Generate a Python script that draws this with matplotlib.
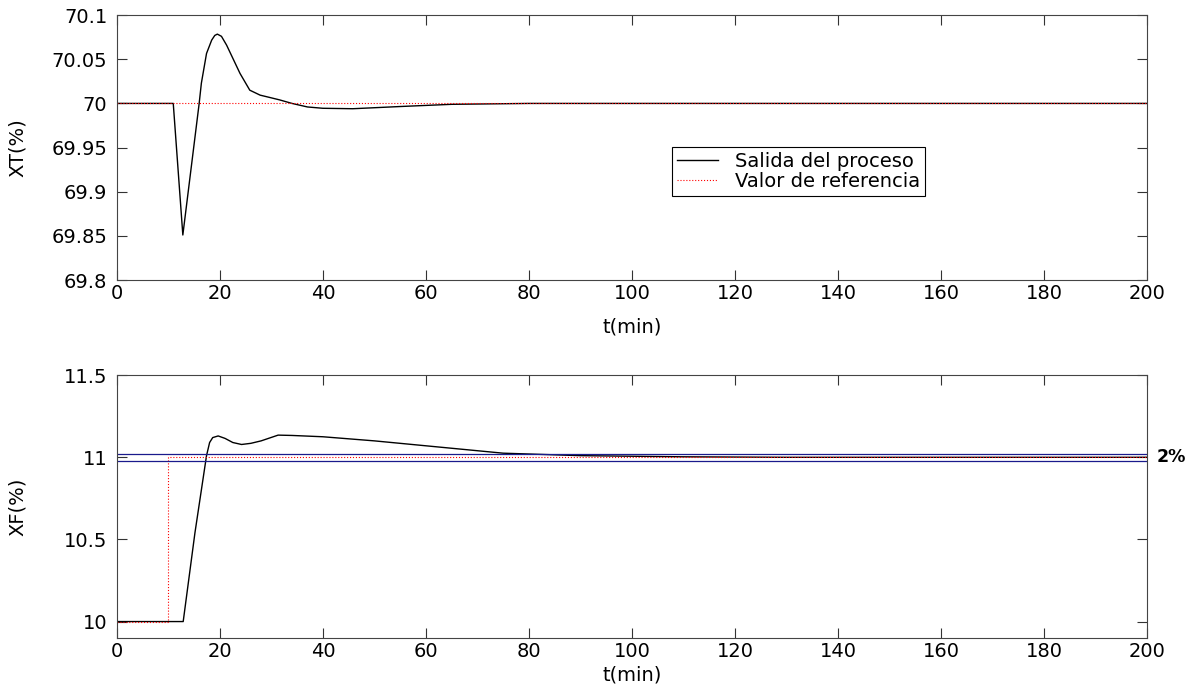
import numpy as np
import matplotlib.pyplot as plt

plt.rcParams['font.family'] = ['DejaVu Sans']
plt.rcParams['font.size'] = 14

# salida XT (lazo superior)
t_xt = [0, 10.94, 12.8, 15.97, 16.4, 17.4, 18.4, 19.0, 19.5, 20.3, 21.3, 22.6,
        23.9, 25.8, 27.8, 29.5, 31.6, 34, 37, 40, 45.8, 55, 65, 80, 100, 200]
xt = [70, 70, 69.851, 70.0, 70.023, 70.0566, 70.0717, 70.077, 70.0785,
      70.076, 70.066, 70.05, 70.034, 70.015, 70.0094, 70.007, 70.004, 70.0,
      69.996, 69.9945, 69.994, 69.9965, 69.999, 70.0, 70.0, 70.0]
xt_ref = 70.0

# salida XF (lazo inferior)
t_xf = [0, 12.87, 15.15, 17.4, 18.0, 18.6, 19.66, 21, 22.5, 24.2, 26, 28,
        31.3, 34, 40, 50, 65, 75, 90, 110, 130, 200]
xf = [10, 10, 10.54, 11.01, 11.09, 11.12, 11.13, 11.115, 11.09, 11.078,
      11.085, 11.10, 11.135, 11.133, 11.125, 11.10, 11.055, 11.025, 11.01,
      11.003, 11.0, 11.0]
t_xf_ref = [0, 10, 10, 200]
xf_ref = [10, 10, 11, 11]
banda = 0.02  # 2%

yt_top = [69.8, 69.85, 69.9, 69.95, 70, 70.05, 70.1]
yl_top = ['69.8', '69.85', '69.9', '69.95', '70', '70.05', '70.1']
yt_bot = [10, 10.5, 11, 11.5]
yl_bot = ['10', '10.5', '11', '11.5']
xt_ticks = list(range(0, 201, 20))

fig = plt.figure(figsize=(11.93, 6.88), dpi=100)
ax1 = fig.add_axes([0.098, 0.593, 0.8634, 0.385])
ax2 = fig.add_axes([0.098, 0.0727, 0.8634, 0.382])

ax1.plot(t_xt, xt, color='black', lw=1.0, label='Salida del proceso')
ax1.plot([0, 200], [xt_ref, xt_ref], color='red', lw=0.8, ls=':',
         label='Valor de referencia')
ax1.set_ylim(69.8, 70.1)
ax1.set_yticks(yt_top)
ax1.set_yticklabels(yl_top)
leg = ax1.legend(loc='upper left', bbox_to_anchor=(0.539, 0.502),
                 fancybox=False, framealpha=1, edgecolor='black',
                 handlelength=2.1, handletextpad=0.9, borderpad=0.25,
                 labelspacing=0.05, borderaxespad=0, fontsize=14)
leg.get_frame().set_linewidth(0.8)

ax2.plot(t_xf, xf, color='black', lw=1.0)
ax2.plot(t_xf_ref, xf_ref, color='red', lw=0.8, ls=':')
ax2.plot([0, 200], [11 + banda] * 2, color='#1a1a8c', lw=0.9)
ax2.plot([0, 200], [11 - banda] * 2, color='#1a1a8c', lw=0.9)
ax2.set_ylim(9.9, 11.5)
ax2.set_yticks(yt_bot)
ax2.set_yticklabels(yl_bot)
ax2.text(1.009, (11 - 9.9) / 1.6, '2%', transform=ax2.transAxes,
         fontsize=12.5, fontweight='bold', va='center', ha='left')

for ax, lab, xl_y in ((ax1, 'XT(%)', -0.14), (ax2, 'XF(%)', -0.105)):
    ax.set_xlim(0, 200)
    ax.set_xticks(xt_ticks)
    ax.set_xlabel('t(min)')
    ax.xaxis.set_label_coords(0.5, xl_y)
    ax.set_ylabel(lab)
    ax.yaxis.set_label_coords(-0.087, 0.5)
    ax.tick_params(direction='in', top=True, right=True, length=7,
                   width=0.8, labelsize=14, colors='#333333',
                   labelcolor='black', pad=7)
    ax.tick_params(axis='x', pad=3)
    for s in ax.spines.values():
        s.set_color('#444444')
        s.set_linewidth(0.8)

fig.savefig('out.png', dpi=100)
